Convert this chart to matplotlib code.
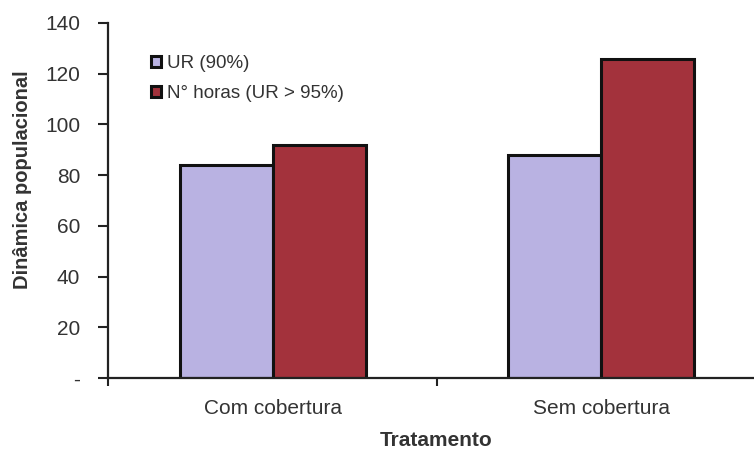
import numpy as np
import matplotlib.pyplot as plt
from matplotlib.ticker import FuncFormatter

plt.rcParams['font.family'] = ['Liberation Sans', 'DejaVu Sans']

tratamentos = ['Com cobertura', 'Sem cobertura']
ur_90 = [84, 88]
horas_ur95 = [92, 126]
series_names = ['UR (90%)', 'N° horas (UR > 95%)']

lilas = '#b9b2e2'
vinho = '#a3323c'
txt = '#333333'

fig = plt.figure(figsize=(7.54, 4.5), dpi=100)
ax = fig.add_axes([108 / 754, 72 / 450, 1 - 108 / 754, 355 / 450])

x = np.arange(len(tratamentos))
w = 0.284
ax.bar(x - w / 2, ur_90, w, color=lilas, edgecolor='#111111', linewidth=2.2, label=series_names[0])
ax.bar(x + w / 2, horas_ur95, w, color=vinho, edgecolor='#111111', linewidth=2.2, label=series_names[1])

xmin = -0.503
ax.set_xlim(xmin, 1.466)
ax.set_ylim(0, 140)
ax.set_yticks(np.arange(0, 141, 20))
ax.yaxis.set_major_formatter(FuncFormatter(lambda v, p: '-' if v == 0 else '%d' % v))

ax.set_xticks(x)
ax.set_xticklabels(tratamentos)
ax.set_xticks([xmin, 0.5], minor=True)
ax.tick_params(axis='x', which='major', length=0, pad=15, labelsize=15, labelcolor=txt)
ax.tick_params(axis='x', which='minor', length=6, width=1.5, color='#222222', direction='out')
ax.tick_params(axis='y', length=7, width=1.5, color='#222222', direction='out', pad=13,
               labelsize=15, labelcolor=txt)

for s in ['top', 'right']:
    ax.spines[s].set_visible(False)
for s in ['left', 'bottom']:
    ax.spines[s].set_linewidth(1.6)
    ax.spines[s].set_color('#222222')

ax.set_ylabel('Dinâmica populacional', fontsize=14.5, fontweight='bold', color=txt)
ax.yaxis.set_label_coords(-0.118, 0.56)
ax.set_xlabel('Tratamento', fontsize=15, fontweight='bold', color=txt)
ax.xaxis.set_label_coords(0.508, -0.148)

leg = ax.legend(loc='upper left', bbox_to_anchor=(0.04, 0.957), frameon=False, fontsize=13.5,
                handlelength=0.55, handleheight=0.55, handletextpad=0.3, labelspacing=0.68,
                labelcolor=txt)

fig.savefig('out.png', dpi=100)
